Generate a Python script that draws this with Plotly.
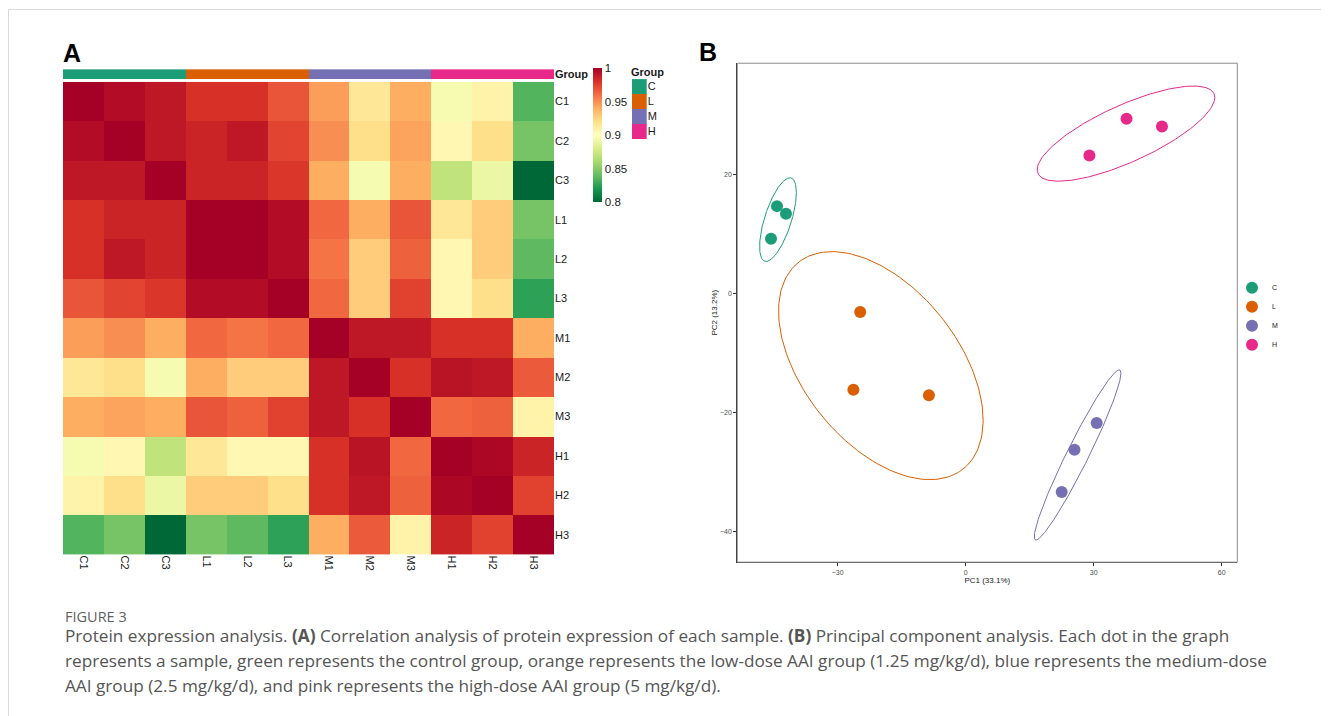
import numpy as np
import plotly.graph_objects as go

W, H = 1329, 716
OFF = 8  # browser body margin offset of the page

# ---------------- data ----------------
samples = ["C1", "C2", "C3", "L1", "L2", "L3", "M1", "M2", "M3", "H1", "H2", "H3"]
sample_groups = ["C", "C", "C", "L", "L", "L", "M", "M", "M", "H", "H", "H"]
groups = ["C", "L", "M", "H"]
group_colors = ["#1b9e77", "#d95f02", "#7570b3", "#e7298a"]

corr = [
    [1.000, 0.995, 0.990, 0.980, 0.980, 0.968, 0.945, 0.915, 0.940, 0.895, 0.908, 0.835],
    [0.995, 1.000, 0.990, 0.985, 0.990, 0.973, 0.950, 0.920, 0.943, 0.905, 0.920, 0.845],
    [0.990, 0.990, 1.000, 0.985, 0.985, 0.978, 0.940, 0.895, 0.940, 0.870, 0.890, 0.800],
    [0.980, 0.985, 0.985, 1.000, 1.000, 0.995, 0.962, 0.940, 0.968, 0.915, 0.928, 0.845],
    [0.980, 0.990, 0.985, 1.000, 1.000, 0.995, 0.958, 0.928, 0.964, 0.905, 0.928, 0.838],
    [0.968, 0.973, 0.978, 0.995, 0.995, 1.000, 0.962, 0.928, 0.974, 0.905, 0.920, 0.825],
    [0.945, 0.950, 0.940, 0.962, 0.958, 0.962, 1.000, 0.990, 0.990, 0.980, 0.980, 0.940],
    [0.915, 0.920, 0.895, 0.940, 0.928, 0.928, 0.990, 1.000, 0.980, 0.992, 0.990, 0.966],
    [0.940, 0.943, 0.940, 0.968, 0.964, 0.974, 0.990, 0.980, 1.000, 0.962, 0.964, 0.908],
    [0.895, 0.905, 0.870, 0.915, 0.905, 0.905, 0.980, 0.992, 0.962, 1.000, 0.997, 0.985],
    [0.908, 0.920, 0.890, 0.928, 0.928, 0.920, 0.980, 0.990, 0.964, 0.997, 1.000, 0.974],
    [0.835, 0.845, 0.800, 0.845, 0.838, 0.825, 0.940, 0.966, 0.908, 0.985, 0.974, 1.000],
]
cbar_ticks = [0.8, 0.85, 0.9, 0.95, 1.0]
cbar_ticktext = ["0.8", "0.85", "0.9", "0.95", "1"]

pc1 = [-44.2, -42.1, -45.6, -24.7, -26.3, -8.6, 30.7, 25.5, 22.5, 37.7, 46.0, 29.0]
pc2 = [14.7, 13.4, 9.2, -3.1, -16.2, -17.1, -21.8, -26.3, -33.4, 29.4, 28.1, 23.2]
pc1_label = "PC1 (33.1%)"
pc2_label = "PC2 (13.2%)"
pc1_ticks = [-30, 0, 30, 60]
pc2_ticks = [-40, -20, 0, 20]

caption_title = "FIGURE 3"
caption_lines = [
    "Protein expression analysis. <b>(A)</b> Correlation analysis of protein expression of each sample. <b>(B)</b> Principal component analysis. Each dot in the graph",
    "represents a sample, green represents the control group, orange represents the low-dose AAI group (1.25 mg/kg/d), blue represents the medium-dose",
    "AAI group (2.5 mg/kg/d), and pink represents the high-dose AAI group (5 mg/kg/d).",
]

rdylgn = ["#006837", "#1a9850", "#66bd63", "#a6d96a", "#d9ef8b", "#ffffbf",
          "#fee08b", "#fdae61", "#f46d43", "#d73027", "#a50026"]
colorscale = [[i / (len(rdylgn) - 1), c] for i, c in enumerate(rdylgn)]

# ---------------- helpers ----------------
def px_x(p):
    return (p - OFF) / W

def px_y(p):
    return 1 - (p - OFF) / H

FONT = "Liberation Sans, Arial, sans-serif"
CAPFONT = "Open Sans"

fig = go.Figure()

# main heatmap
fig.add_trace(go.Heatmap(
    z=corr, x=samples, y=samples, xaxis="x", yaxis="y",
    colorscale=colorscale, zmin=0.8, zmax=1.0,
    colorbar=dict(
        x=px_x(593.3), xanchor="left", xpad=0,
        y=px_y(67.3), yanchor="top", ypad=0,
        len=133.7, lenmode="pixels", thickness=9, thicknessmode="pixels",
        outlinewidth=0, tickvals=cbar_ticks, ticktext=cbar_ticktext, ticks="",
        tickfont=dict(size=11.5, color="#1a1a1a", family=FONT),
    ),
    hoverinfo="skip",
))

# group annotation bar
gidx = [groups.index(g) for g in sample_groups]
n = len(groups)
gscale = [[i / (n - 1), c] for i, c in enumerate(group_colors)]
fig.add_trace(go.Heatmap(
    z=[gidx], x=samples, y=["<b>Group</b>"], xaxis="x2", yaxis="y2",
    colorscale=gscale, zmin=0, zmax=n - 1, showscale=False, hoverinfo="skip",
))

# group legend swatches
fig.add_trace(go.Heatmap(
    z=[[i] for i in range(n)], x=[0], y=groups, xaxis="x3", yaxis="y3",
    colorscale=gscale, zmin=0, zmax=n - 1, showscale=False, hoverinfo="skip",
))

# PCA: ellipses (95% normal data ellipse) and points
r = np.sqrt(-2 * np.log(0.05))
t = np.linspace(0, 2 * np.pi, 200)
pc1a, pc2a = np.array(pc1), np.array(pc2)
for g, c in zip(groups, group_colors):
    m = np.array([s == g for s in sample_groups])
    pts = np.vstack([pc1a[m], pc2a[m]])
    mu = pts.mean(axis=1)
    cov = np.cov(pts)
    L = np.linalg.cholesky(cov)
    e = mu[:, None] + r * L @ np.vstack([np.cos(t), np.sin(t)])
    fig.add_trace(go.Scatter(
        x=e[0], y=e[1], mode="lines", line=dict(color=c, width=1),
        xaxis="x4", yaxis="y4", showlegend=False, hoverinfo="skip",
    ))
for g, c in zip(groups, group_colors):
    m = [s == g for s in sample_groups]
    fig.add_trace(go.Scatter(
        x=[v for v, k in zip(pc1, m) if k], y=[v for v, k in zip(pc2, m) if k],
        mode="markers", marker=dict(color=c, size=12, line=dict(width=0)),
        name=g, xaxis="x4", yaxis="y4", legend="legend",
    ))

axis_off = dict(showgrid=False, zeroline=False, showline=False)

fig.update_layout(
    width=W, height=H, margin=dict(l=0, r=0, t=0, b=0),
    paper_bgcolor="white", plot_bgcolor="white",
    font=dict(family=FONT, color="#1a1a1a"),
    xaxis=dict(domain=[px_x(63), px_x(554)], tickangle=90, ticks="",
               tickfont=dict(size=11, family=FONT), **axis_off, anchor="y"),
    yaxis=dict(domain=[px_y(555), px_y(81)], autorange="reversed", side="right",
               ticks="", tickfont=dict(size=11, family=FONT), **axis_off, anchor="x"),
    xaxis2=dict(domain=[px_x(63), px_x(554)], showticklabels=False, ticks="",
                **axis_off, anchor="y2"),
    yaxis2=dict(domain=[px_y(78.3), px_y(68.3)], side="right", ticks="",
                tickfont=dict(size=11, family=FONT), **axis_off, anchor="x2"),
    xaxis3=dict(domain=[px_x(632), px_x(646.7)], showticklabels=False, ticks="",
                **axis_off, anchor="y3"),
    yaxis3=dict(domain=[px_y(138.3), px_y(78.3)], side="right", autorange="reversed",
                ticks="", tickfont=dict(size=11, family=FONT), **axis_off, anchor="x3"),
    xaxis4=dict(domain=[px_x(737.3), px_x(1237.3)], range=[-53.5, 63.65],
                showgrid=False, zeroline=False, showline=True, linecolor="#333333",
                linewidth=1, ticks="outside", ticklen=3, tickcolor="#333333",
                tickvals=pc1_ticks, tickfont=dict(size=7, color="#4d4d4d"),
                title=dict(text=pc1_label, font=dict(size=8, color="#1a1a1a"), standoff=0),
                anchor="y4"),
    yaxis4=dict(domain=[px_y(562.7), px_y(62.4)], range=[-45.2, 38.74],
                showgrid=False, zeroline=False, showline=True, linecolor="#333333",
                linewidth=1, ticks="outside", ticklen=3, tickcolor="#333333",
                tickvals=pc2_ticks, tickfont=dict(size=7, color="#4d4d4d"),
                title=dict(text=pc2_label, font=dict(size=8, color="#1a1a1a"), standoff=1),
                anchor="x4"),
    legend=dict(x=px_x(1232), y=px_y(273), xanchor="left", yanchor="top",
                font=dict(size=7, color="#1a1a1a"), itemwidth=30,
                bgcolor="rgba(0,0,0,0)", tracegroupgap=0),
    showlegend=True,
)

shapes = [
    # PCA panel border
    dict(type="rect", xref="x4 domain", yref="y4 domain", x0=0, x1=1, y0=0, y1=1,
         line=dict(color="#8c8c8c", width=1), layer="above"),
    # page frame
    dict(type="line", xref="paper", yref="paper", x0=0.5 / W, x1=1, y0=1 - 0.5 / H, y1=1 - 0.5 / H,
         line=dict(color="#d9d9d9", width=1)),
    dict(type="line", xref="paper", yref="paper", x0=0.5 / W, x1=0.5 / W, y0=1 - 0.5 / H, y1=0,
         line=dict(color="#d9d9d9", width=1)),
]
fig.update_layout(shapes=shapes)

ann = [
    dict(text="<b>A</b>", x=px_x(61), y=px_y(52), xanchor="left", yanchor="middle",
         font=dict(size=25, family=FONT, color="black")),
    dict(text="<b>B</b>", x=px_x(697), y=px_y(51), xanchor="left", yanchor="middle",
         font=dict(size=25, family=FONT, color="black")),
    dict(text="<b>Group</b>", x=px_x(629), y=px_y(71), xanchor="left", yanchor="middle",
         font=dict(size=11, family=FONT, color="#1a1a1a")),
    dict(text=caption_title, x=px_x(63), y=px_y(617), xanchor="left", yanchor="middle",
         font=dict(size=14.5, family=CAPFONT, color="#5f5f5f")),
]
for i, line in enumerate(caption_lines):
    ann.append(dict(text=line, x=px_x(63), y=px_y(636 + 25 * i), xanchor="left",
                    yanchor="middle",
                    font=dict(size=17.2, family=CAPFONT, color="#555555")))
for a in ann:
    a.update(xref="paper", yref="paper", showarrow=False)
fig.update_layout(annotations=ann)

fig.write_html("out.html")
